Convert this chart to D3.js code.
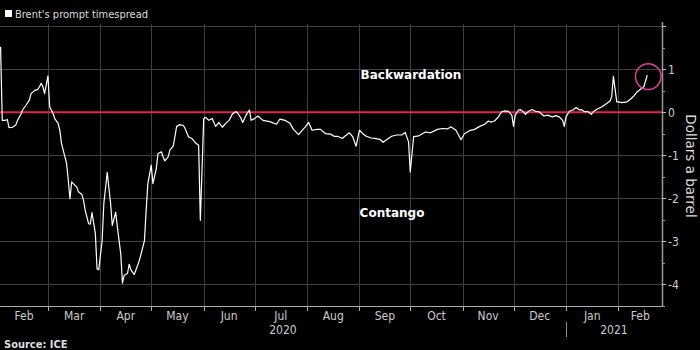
<!DOCTYPE html>
<html><head><meta charset="utf-8">
<script src="https://cdn.jsdelivr.net/npm/d3@7"></script>
<style>
html,body{margin:0;padding:0;background:#000;}
svg{display:block;}
</style></head>
<body>
<svg id="chart" width="700" height="350"></svg>
<script>
const dates = ["2020-02-02","2020-02-03","2020-02-05","2020-02-06","2020-02-07","2020-02-09","2020-02-11","2020-02-12","2020-02-14","2020-02-15","2020-02-17","2020-02-19","2020-02-20","2020-02-22","2020-02-24","2020-02-25","2020-02-26","2020-02-27","2020-02-28",
"2020-03-01","2020-03-02","2020-03-03","2020-03-04","2020-03-05","2020-03-07","2020-03-08","2020-03-09","2020-03-10","2020-03-12","2020-03-13","2020-03-14","2020-03-15","2020-03-16","2020-03-18","2020-03-19","2020-03-21","2020-03-22","2020-03-23","2020-03-25","2020-03-26","2020-03-27","2020-03-29","2020-03-30","2020-03-31",
"2020-04-02","2020-04-03","2020-04-05","2020-04-07","2020-04-08","2020-04-10","2020-04-11","2020-04-13","2020-04-14","2020-04-15","2020-04-17","2020-04-18","2020-04-19","2020-04-21","2020-04-22","2020-04-24","2020-04-25","2020-04-27","2020-04-28","2020-04-29",
"2020-05-01","2020-05-02","2020-05-04","2020-05-05","2020-05-07","2020-05-08","2020-05-09","2020-05-11","2020-05-12","2020-05-14","2020-05-15","2020-05-16","2020-05-18","2020-05-20","2020-05-21","2020-05-23","2020-05-25","2020-05-27","2020-05-29","2020-05-30",
"2020-06-01","2020-06-02","2020-06-04","2020-06-06","2020-06-08","2020-06-10","2020-06-12","2020-06-14","2020-06-16","2020-06-18","2020-06-20","2020-06-21","2020-06-23","2020-06-24","2020-06-26","2020-06-28","2020-06-29",
"2020-07-01","2020-07-03","2020-07-06","2020-07-10","2020-07-14","2020-07-16","2020-07-19","2020-07-22","2020-07-24","2020-07-27","2020-07-29","2020-07-31",
"2020-08-02","2020-08-04","2020-08-07","2020-08-09","2020-08-12","2020-08-15","2020-08-17","2020-08-19","2020-08-22","2020-08-23","2020-08-26","2020-08-28","2020-08-30",
"2020-09-01","2020-09-03","2020-09-05","2020-09-08","2020-09-10","2020-09-13","2020-09-15","2020-09-17","2020-09-20","2020-09-23","2020-09-26","2020-09-28","2020-09-30",
"2020-10-01","2020-10-03","2020-10-06","2020-10-10","2020-10-13","2020-10-17","2020-10-20","2020-10-23","2020-10-25","2020-10-28","2020-10-31",
"2020-11-02","2020-11-05","2020-11-08","2020-11-11","2020-11-14","2020-11-16","2020-11-18","2020-11-20","2020-11-22","2020-11-24","2020-11-26","2020-11-28","2020-11-30",
"2020-12-01","2020-12-02","2020-12-04","2020-12-05","2020-12-07","2020-12-08","2020-12-10","2020-12-12","2020-12-14","2020-12-16","2020-12-19","2020-12-21","2020-12-24","2020-12-26","2020-12-28","2020-12-30","2020-12-31",
"2021-01-01","2021-01-03","2021-01-05","2021-01-07","2021-01-09","2021-01-10","2021-01-12","2021-01-14","2021-01-16","2021-01-17","2021-01-19","2021-01-22","2021-01-25","2021-01-27","2021-01-28","2021-01-29","2021-01-31",
"2021-02-01","2021-02-03","2021-02-06","2021-02-08","2021-02-10","2021-02-12","2021-02-14","2021-02-16","2021-02-18"];
const spread = [1.52,-0.19,-0.19,-0.17,-0.36,-0.35,-0.30,-0.19,-0.05,0.05,0.16,0.28,0.43,0.50,0.53,0.59,0.67,0.59,0.43,
0.84,0.12,0.05,-0.03,-0.15,-0.26,-0.42,-0.73,-0.88,-1.19,-1.58,-2.01,-1.62,-1.66,-1.74,-1.85,-1.91,-2.05,-2.28,-2.59,-2.60,-2.33,-2.82,-3.64,-3.66,
-2.98,-2.12,-1.40,-2.12,-2.63,-2.32,-2.67,-3.29,-3.97,-3.79,-3.74,-3.53,-3.66,-3.77,-3.66,-3.44,-3.29,-2.98,-2.28,-1.66,
-1.23,-1.66,-1.31,-0.96,-0.92,-1.04,-1.13,-1.04,-0.88,-0.79,-0.57,-0.33,-0.29,-0.31,-0.38,-0.57,-0.61,-0.71,-0.77,-2.51,
-0.15,-0.12,-0.19,-0.15,-0.33,-0.24,-0.35,-0.26,-0.19,-0.04,0.01,-0.02,-0.14,-0.24,-0.07,0.05,-0.19,
-0.15,-0.09,-0.19,-0.22,-0.28,-0.16,-0.19,-0.26,-0.40,-0.52,-0.43,-0.34,
-0.24,-0.42,-0.40,-0.40,-0.50,-0.51,-0.56,-0.56,-0.61,-0.57,-0.48,-0.57,-0.79,
-0.42,-0.50,-0.56,-0.60,-0.61,-0.63,-0.70,-0.64,-0.56,-0.53,-0.53,-0.47,-0.69,
-1.39,-0.57,-0.55,-0.46,-0.48,-0.40,-0.38,-0.39,-0.34,-0.42,-0.64,
-0.50,-0.43,-0.40,-0.33,-0.28,-0.21,-0.23,-0.20,-0.11,0.01,0.03,0.02,-0.07,
-0.33,-0.07,0.05,0.06,0.00,-0.05,0.02,0.06,0.02,0.01,-0.09,-0.07,-0.11,-0.08,-0.11,-0.19,-0.33,
-0.11,0.02,0.05,0.11,0.05,0.06,0.01,0.01,-0.05,0.01,0.06,0.12,0.20,0.26,0.36,0.83,0.24,
0.24,0.22,0.24,0.30,0.37,0.47,0.53,0.59,0.86];
const yTicks = [2,1,0,-1,-2,-3,-4];
const yTickLabels = ["","1","0","-1","-2","-3","-4"];
const yMinorTicks = [1.5,0.5,-0.5,-1.5,-2.5,-3.5,-4.5];
const years = [{label:"2020", start:"2020-02-01", end:"2021-01-01"},{label:"2021", start:"2021-01-01", end:"2021-03-01"}];
const seriesName = "Brent's prompt timespread";
const yTitle = "Dollars a barrel";
const source = "Source: ICE";

(function(){
const parse = d3.utcParse("%Y-%m-%d");
const data = dates.map((d,i)=>({date:parse(d), value:spread[i]}));

const svg = d3.select("#chart");
const pL = 0, pR = 662, pT = 26, pB = 306;
const fontCond = "'DejaVu Sans Condensed','Liberation Sans Narrow','DejaVu Sans',sans-serif";

const x = d3.scaleUtc()
  .domain([new Date(Date.UTC(2020,1,1,16)), new Date(Date.UTC(2021,1,26,17))])
  .range([pL, pR]);
const y = d3.scaleLinear().domain([2, -4.5]).range([pT, pB]);

// legend
svg.append("rect").attr("x",5).attr("y",10).attr("width",7).attr("height",7).attr("fill","#fff");
svg.append("text").attr("x",15).attr("y",18).attr("fill","#ddd")
  .attr("font-family",fontCond).attr("font-size",11).text(seriesName);

const gridColor = "#404040";
// grid horizontal
svg.append("g").attr("class","grid").selectAll("line").data(yTicks.filter(t=>t!==0)).join("line")
  .attr("x1",pL).attr("x2",pR).attr("y1",d=>Math.round(y(d))+0.5).attr("y2",d=>Math.round(y(d))+0.5)
  .attr("stroke",gridColor).attr("stroke-width",1).attr("shape-rendering","crispEdges");

// month boundaries
const monthTicks = d3.utcMonth.range(d3.utcMonth.ceil(x.domain()[0]), x.domain()[1]);
svg.append("g").attr("class","grid").selectAll("line").data(monthTicks).join("line")
  .attr("x1",d=>Math.round(x(d))+0.5).attr("x2",d=>Math.round(x(d))+0.5)
  .attr("y1",pT-2).attr("y2",pB)
  .attr("stroke",gridColor).attr("stroke-width",1).attr("shape-rendering","crispEdges");

// zero line
svg.append("line").attr("x1",pL).attr("x2",pR).attr("y1",y(0)).attr("y2",y(0))
  .attr("stroke","#e4254b").attr("stroke-width",2);

// series line
svg.append("path").datum(data)
  .attr("d", d3.line().x(d=>x(d.date)).y(d=>y(d.value)))
  .attr("fill","none").attr("stroke","#fff").attr("stroke-width",1.2).attr("stroke-linejoin","round");

// bottom axis
svg.append("line").attr("x1",pL).attr("x2",pR).attr("y1",pB+0.5).attr("y2",pB+0.5)
  .attr("stroke","#aaa").attr("stroke-width",1);
svg.append("g").selectAll("line").data(monthTicks).join("line")
  .attr("x1",d=>Math.round(x(d))+0.5).attr("x2",d=>Math.round(x(d))+0.5)
  .attr("y1",pB).attr("y2",pB+5)
  .attr("stroke","#aaa").attr("stroke-width",1);

// month labels
const monthStarts = d3.utcMonth.range(d3.utcMonth.floor(x.domain()[0]), x.domain()[1]);
svg.append("g").selectAll("text").data(monthStarts).join("text")
  .attr("x", d=>{
    const a = Math.max(x(d), pL), b = Math.min(x(d3.utcMonth.offset(d,1)), pR);
    return (a+b)/2;
  })
  .attr("y", 320).attr("text-anchor","middle").attr("fill","#ccc")
  .attr("font-family",fontCond).attr("font-size",12)
  .text(d=>d3.utcFormat("%b")(d));

// year labels
svg.append("g").selectAll("text").data(years).join("text")
  .attr("x", d=>(Math.max(x(parse(d.start)),pL)+Math.min(x(parse(d.end)),pR))/2)
  .attr("y", 334).attr("text-anchor","middle").attr("fill","#ccc")
  .attr("font-family",fontCond).attr("font-size",12).text(d=>d.label);
svg.append("line")
  .attr("x1",Math.round(x(parse(years[1].start)))+0.5).attr("x2",Math.round(x(parse(years[1].start)))+0.5)
  .attr("y1",322).attr("y2",337).attr("stroke","#888").attr("stroke-width",1);

// right axis
svg.append("line").attr("x1",pR+0.5).attr("x2",pR+0.5).attr("y1",pT-4).attr("y2",pB+1)
  .attr("stroke","#999").attr("stroke-width",1.5);
svg.append("g").selectAll("line").data(yTicks).join("line")
  .attr("x1",pR).attr("x2",pR+4).attr("y1",d=>Math.round(y(d))+0.5).attr("y2",d=>Math.round(y(d))+0.5)
  .attr("stroke","#bbb").attr("stroke-width",1);
svg.append("g").selectAll("line").data(yMinorTicks).join("line")
  .attr("x1",pR).attr("x2",pR+3).attr("y1",d=>Math.round(y(d))+0.5).attr("y2",d=>Math.round(y(d))+0.5)
  .attr("stroke","#999").attr("stroke-width",1);
svg.append("g").selectAll("text").data(yTicks).join("text")
  .attr("x",pR+6).attr("y",d=>y(d)+4.5).attr("fill","#ccc")
  .attr("font-family",fontCond).attr("font-size",12)
  .text((d,i)=>yTickLabels[i]);

svg.append("text").attr("transform","translate(686,166) rotate(90)")
  .attr("text-anchor","middle").attr("fill","#ddd")
  .attr("font-family","'DejaVu Sans',sans-serif").attr("font-size",13.5).text(yTitle);

// annotations
svg.append("text").attr("x",411).attr("y",78.5).attr("text-anchor","middle").attr("fill","#fff")
  .attr("font-family","'DejaVu Sans',sans-serif").attr("font-weight","bold").attr("font-size",12).text("Backwardation");
svg.append("text").attr("x",392).attr("y",217).attr("text-anchor","middle").attr("fill","#fff")
  .attr("font-family","'DejaVu Sans',sans-serif").attr("font-weight","bold").attr("font-size",12).text("Contango");

// highlight circle around the last point
const last = data[data.length-1];
svg.append("circle").attr("cx",x(last.date)+1).attr("cy",y(last.value)+1.5).attr("r",12.8)
  .attr("fill","none").attr("stroke","#e0409a").attr("stroke-width",1.5);

// source
svg.append("text").attr("x",4).attr("y",347.5).attr("fill","#ddd")
  .attr("font-family",fontCond).attr("font-weight","bold").attr("font-size",11).text(source);
})();
</script>
</body></html>
